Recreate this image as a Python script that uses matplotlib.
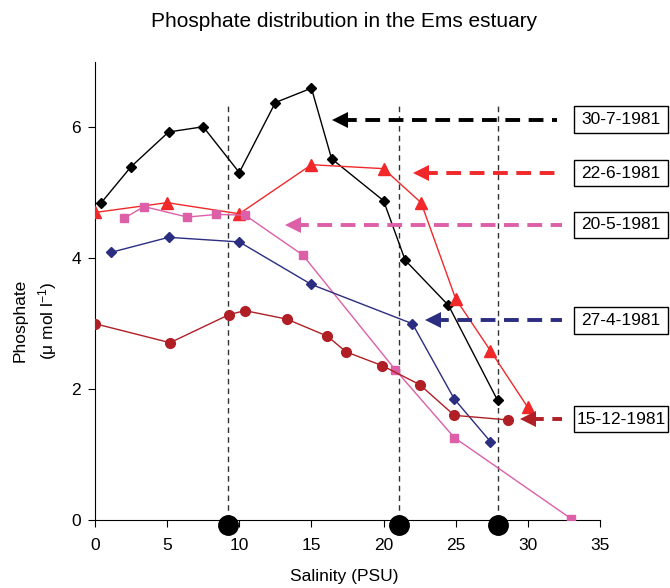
import matplotlib
matplotlib.use('Agg')
import matplotlib.pyplot as plt
from matplotlib.patches import Rectangle

plt.rcParams['font.family'] = ['Liberation Sans', 'DejaVu Sans']
plt.rcParams['mathtext.fontset'] = 'custom'
plt.rcParams['mathtext.rm'] = 'Liberation Sans'
plt.rcParams['mathtext.it'] = 'Liberation Sans:italic'

# 30-7-1981
jul_x = [0.4, 2.5, 5.1, 7.5, 10.0, 12.5, 15.0, 16.4, 20.0, 21.5, 24.5, 27.9]
jul_y = [4.84, 5.40, 5.93, 6.01, 5.31, 6.38, 6.60, 5.52, 4.88, 3.97, 3.28, 1.83]
# 22-6-1981
jun_x = [0.0, 5.0, 10.0, 15.0, 20.0, 22.6, 25.0, 27.4, 30.0]
jun_y = [4.70, 4.85, 4.68, 5.43, 5.37, 4.85, 3.38, 2.59, 1.72]
# 20-5-1981
may_x = [2.0, 3.4, 6.4, 8.4, 10.4, 14.4, 20.8, 24.9, 33.0]
may_y = [4.61, 4.79, 4.63, 4.67, 4.66, 4.05, 2.30, 1.26, 0.02]
# 27-4-1981
apr_x = [1.1, 5.1, 10.0, 15.0, 22.0, 24.9, 27.4]
apr_y = [4.09, 4.32, 4.25, 3.60, 3.00, 1.85, 1.20]
# 15-12-1981
dec_x = [0.0, 5.2, 9.3, 10.4, 13.3, 16.1, 17.4, 19.9, 22.5, 24.9, 28.6]
dec_y = [3.00, 2.71, 3.14, 3.20, 3.07, 2.81, 2.57, 2.36, 2.07, 1.60, 1.53]

# dashed reference lines (salinity) and labelled arrows
vline_x = [9.2, 21.1, 27.9]
labels = ['30-7-1981', '22-6-1981', '20-5-1981', '27-4-1981', '15-12-1981']
arrow_y = [6.12, 5.30, 4.51, 3.05, 1.54]
arrow_tip = [16.5, 22.1, 13.2, 22.9, 29.5]
arrow_start = [32.0, 32.0, 32.4, 32.4, 32.4]

c_jul = 'black'
c_jun = '#f0282a'
c_may = '#dc5fa8'
c_apr = '#2a2d80'
c_dec = '#b01e26'

fig = plt.figure(figsize=(6.7, 5.88), dpi=100)
ax = fig.add_axes([0.1418, 0.1156, 0.7537, 0.779])

ax.plot(jul_x, jul_y, color=c_jul, lw=1, marker='D', ms=5.5, zorder=5)
ax.plot(jun_x, jun_y, color=c_jun, lw=1, marker='^', ms=8, zorder=5)
ax.plot(may_x, may_y, color=c_may, lw=1, marker='s', ms=6, zorder=5)
ax.plot(apr_x, apr_y, color=c_apr, lw=1, marker='D', ms=5.5, zorder=5)
ax.plot(dec_x, dec_y, color=c_dec, lw=1, marker='o', ms=7, zorder=5)

for vx in vline_x:
    ax.plot([vx, vx], [0, 6.35], color='#333333', lw=1, dashes=(4, 3), zorder=2)
    ax.plot([vx], [-0.08], 'o', color='black', ms=14, clip_on=False, zorder=10)

colors = [c_jul, c_jun, c_may, c_apr, c_dec]
for lab, yy, tip, st, col in zip(labels, arrow_y, arrow_tip, arrow_start, colors):
    ax.plot([tip + 0.6, st], [yy, yy], color=col, lw=2.8, dashes=(3.8, 2.2),
            solid_capstyle='butt', clip_on=False, zorder=6)
    ax.plot([tip + 0.5], [yy], marker='<', color=col, ms=11, mew=0,
            clip_on=False, zorder=6)
    ax.add_patch(Rectangle((33.2, yy - 0.2), 6.5, 0.4, fc='white', ec='black',
                           lw=1, clip_on=False, zorder=11))
    ax.text(36.45, yy, lab, ha='center', va='center', fontsize=12.5,
            clip_on=False, zorder=12)

ax.set_xlim(0, 35)
ax.set_ylim(0, 7)
ax.set_xticks(range(0, 36, 5))
ax.set_yticks([0, 2, 4, 6])
ax.tick_params(labelsize=12.5, direction='out', length=5)
ax.tick_params(axis='x', pad=8)
ax.tick_params(axis='y', pad=5)
ax.spines['top'].set_visible(False)
ax.spines['right'].set_visible(False)

fig.text(0.514, 0.019, 'Salinity (PSU)', ha='center', va='center', fontsize=12.5)
fig.text(0.053, 0.455, 'Phosphate\n(μ mol l$^{-1}$)', ha='center', va='center',
         rotation=90, fontsize=12.5, linespacing=1.5)
fig.text(0.513, 0.963, 'Phosphate distribution in the Ems estuary',
         ha='center', va='center', fontsize=15)

fig.savefig('out.png', dpi=100)
